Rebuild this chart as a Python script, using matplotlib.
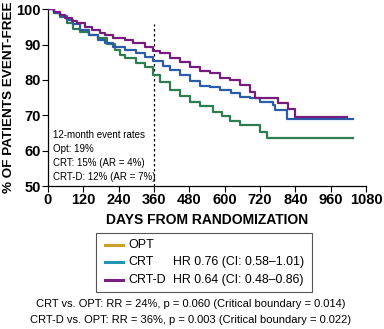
import matplotlib
matplotlib.use("Agg")
import matplotlib.pyplot as plt
from matplotlib.lines import Line2D
from matplotlib.patches import Rectangle

plt.rcParams['font.family'] = ['Liberation Sans', 'DejaVu Sans']

# Kaplan-Meier step points (day, % event-free)
crtd_days = [0, 20, 40, 58, 80, 100, 126, 150, 175, 194, 220, 262, 290, 330, 358, 380, 414, 448,
             482, 516, 550, 584, 618, 652, 686, 703, 782, 816, 839, 1015]
crtd_vals = [100, 99.3, 98.5, 97.5, 96.8, 96.0, 95.1, 94.2, 93.3, 92.7, 92.0, 91.3, 90.5, 89.4, 88.3,
             87.6, 86.1, 85.2, 83.7, 82.4, 81.9, 80.5, 80.0, 78.6, 76.7, 74.8, 73.4, 71.9, 69.6, 69.6]

crt_days = [0, 20, 40, 64, 85, 110, 140, 170, 194, 220, 262, 300, 330, 358, 390, 414, 448, 482,
            516, 550, 584, 620, 652, 686, 720, 765, 771, 811, 1035]
crt_vals = [100, 99.0, 98.0, 97.0, 95.8, 94.1, 92.8, 91.4, 90.4, 89.3, 88.5, 87.5, 86.6, 85.4, 84.0,
            82.8, 81.4, 79.8, 78.4, 77.9, 77.3, 76.2, 75.3, 75.0, 73.9, 72.9, 71.5, 68.9, 68.9]

opt_days = [0, 20, 40, 65, 85, 110, 140, 171, 200, 228, 245, 262, 300, 330, 358, 380, 414, 448,
            482, 516, 561, 590, 618, 652, 720, 743, 1035]
opt_vals = [100, 99.0, 97.8, 96.2, 94.5, 93.5, 92.8, 91.8, 90.2, 88.5, 87.0, 86.1, 84.8, 83.7, 81.4,
            79.5, 77.3, 75.4, 73.8, 72.6, 70.8, 69.8, 68.4, 67.2, 65.3, 63.5, 63.5]

x_ticks = [0, 120, 240, 360, 480, 600, 720, 840, 960, 1080]
y_ticks = [50, 60, 70, 80, 90, 100]

legend_labels = ["OPT", "CRT", "CRT-D"]
legend_hr = ["", "HR 0.76 (CI: 0.58\u20131.01)", "HR 0.64 (CI: 0.48\u20130.86)"]
legend_colors = ["#C9A02A", "#2196B0", "#7A1F82"]

annot_lines = ["12-month event rates", "Opt: 19%", "CRT: 15% (AR = 4%)", "CRT-D: 12% (AR = 7%)"]
bottom_lines = ["CRT vs. OPT: RR = 24%, p = 0.060 (Critical boundary = 0.014)",
                "CRT-D vs. OPT: RR = 36%, p = 0.003 (Critical boundary = 0.022)"]

fig = plt.figure(figsize=(3.84, 3.29), dpi=100)
ax = fig.add_axes([48/384, 1-186/329, (366-48)/384, (186-9.3)/329])

ax.plot(opt_days, opt_vals, drawstyle='steps-post', color='#2E7D50', lw=1.6, zorder=3)
ax.plot(crt_days, crt_vals, drawstyle='steps-post', color='#2A5CAA', lw=1.6, zorder=4)
ax.plot(crtd_days, crtd_vals, drawstyle='steps-post', color='#751C7E', lw=1.6, zorder=5)

ax.plot([360, 360], [50, 95.8], color='black', lw=0.9, ls=(0, (2, 2)), zorder=2)

ax.set_xlim(0, 1080)
ax.set_ylim(50, 100)
ax.set_xticks(x_ticks)
ax.set_yticks(y_ticks)
ax.tick_params(direction='out', length=4, width=0.8, labelsize=10.5, pad=1)
for lab in ax.get_xticklabels() + ax.get_yticklabels():
    lab.set_fontweight('bold')
for s in ['top', 'right']:
    ax.spines[s].set_visible(False)
for s in ['left', 'bottom']:
    ax.spines[s].set_linewidth(0.9)
ax.spines['left'].set_bounds(50, 100)

ax.set_xlabel("DAYS FROM RANDOMIZATION", fontsize=10, fontweight='bold', labelpad=4)
ax.set_ylabel("% OF PATIENTS EVENT-FREE", fontsize=9.7, fontweight='bold', labelpad=1)

for i, t in enumerate(annot_lines):
    fig.text(53/384, 1-(135+14*i)/329, t, fontsize=7.0, va='center', ha='left')

# Legend box
fig.patches.append(Rectangle((96/384, 1-292/329), (312-96)/384, (292-233)/329,
                             transform=fig.transFigure, fill=False, ec='#555555', lw=0.8))
rows_y = [245, 262, 280]
for lab, hr, col, yy in zip(legend_labels, legend_hr, legend_colors, rows_y):
    yf = 1 - yy/329
    fig.lines.append(Line2D([105/384, 123/384], [yf, yf], transform=fig.transFigure,
                            color=col, lw=2.2))
    fig.text(128/384, yf, lab, fontsize=9, va='center', ha='left')
    if hr:
        fig.text(173/384, yf, hr, fontsize=8.9, va='center', ha='left')

for i, t in enumerate(bottom_lines):
    fig.text(191/384, 1-(304+16*i)/329, t, fontsize=8.0, va='center', ha='center')

fig.savefig("out.png", dpi=100)
